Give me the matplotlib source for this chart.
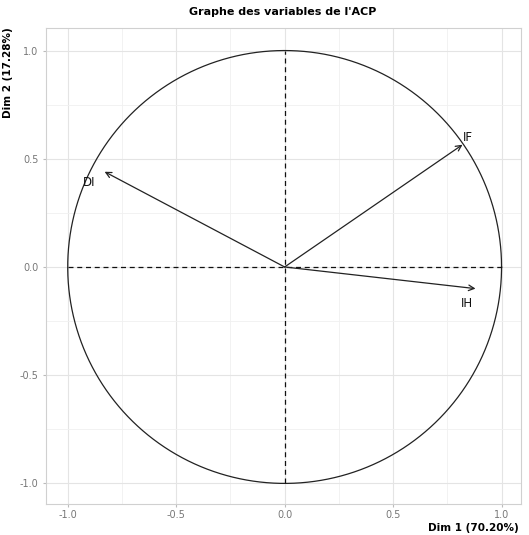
import numpy as np
import matplotlib.pyplot as plt
from matplotlib.ticker import MultipleLocator

plt.rcParams["axes.unicode_minus"] = False

variables = ["IF", "IH", "DI"]
dim1 = [0.82, 0.88, -0.83]
dim2 = [0.565, -0.10, 0.44]
label_offsets = {"IF": (0.025, 0.035), "IH": (-0.04, -0.07), "DI": (-0.07, -0.05)}

fig = plt.figure(figsize=(5.29, 5.35), dpi=100)
ax = fig.add_axes([0.087, 0.058, 0.898, 0.89])

ax.set_xlim(-1.1, 1.09)
ax.set_ylim(-1.095, 1.105)

ax.xaxis.set_major_locator(MultipleLocator(0.5))
ax.yaxis.set_major_locator(MultipleLocator(0.5))
ax.xaxis.set_minor_locator(MultipleLocator(0.25))
ax.yaxis.set_minor_locator(MultipleLocator(0.25))
ax.grid(which="major", color="#e4e4e4", linewidth=0.8)
ax.grid(which="minor", color="#f0f0f0", linewidth=0.6)
ax.set_axisbelow(True)

for s in ax.spines.values():
    s.set_color("#d0d0d0")
    s.set_linewidth(0.8)
ax.tick_params(which="major", length=2.5, color="#bbbbbb", labelsize=7,
               labelcolor="#777777", pad=3)
ax.tick_params(axis="x", pad=2)
ax.tick_params(which="minor", length=0)

# correlation circle and axes through the origin
t = np.linspace(0, 2 * np.pi, 400)
ax.plot(np.cos(t), np.sin(t), color="#222222", linewidth=0.9)
ax.plot([-1, 1], [0, 0], color="#111111", linestyle=(0, (4, 3)), linewidth=0.9)
ax.plot([0, 0], [-1, 1], color="#111111", linestyle=(0, (4, 3)), linewidth=0.9)

for name, x, y in zip(variables, dim1, dim2):
    ax.annotate("", xy=(x, y), xytext=(0, 0),
                arrowprops=dict(arrowstyle="->", color="#222222", lw=0.9,
                                shrinkA=0, shrinkB=0, mutation_scale=10))
    dx, dy = label_offsets[name]
    ax.text(x + dx, y + dy, name, fontsize=8.5, color="#111111",
            ha="center", va="center")

fig.text(0.535, 0.977, "Graphe des variables de l'ACP", ha="center", va="center",
         fontsize=8, fontweight="bold")
fig.text(0.98, 0.013, "Dim 1 (70.20%)", ha="right", va="center",
         fontsize=7.5, fontweight="bold")
fig.text(0.015, 0.95, "Dim 2 (17.28%)", ha="center", va="top", rotation=90,
         fontsize=7.5, fontweight="bold")

fig.savefig("out.png", dpi=100)
